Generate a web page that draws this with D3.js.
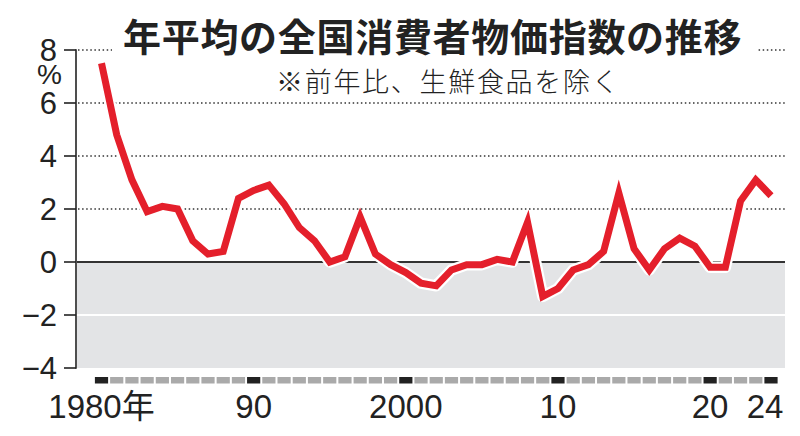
<!DOCTYPE html>
<html>
<head>
<meta charset="utf-8">
<script src="https://cdn.jsdelivr.net/npm/d3@7"></script>
<style>
	body { margin: 0; background: #fff; }
	svg { display: block; }
</style>
</head>
<body>
<svg id="mainsvg" width="800" height="436"></svg>
<script>
// 全国消費者物価指数（生鮮食品を除く）前年比 %
var years = d3.range(1980, 2025);
var values = [
	7.5, 4.8, 3.1, 1.9, 2.1, 2.0, 0.8, 0.3, 0.4, 2.4,
	2.7, 2.9, 2.2, 1.3, 0.8, 0.0, 0.2, 1.7, 0.3, -0.1,
	-0.4, -0.8, -0.9, -0.3, -0.1, -0.1, 0.1, 0.0, 1.5, -1.3,
	-1.0, -0.3, -0.1, 0.4, 2.6, 0.5, -0.3, 0.5, 0.9, 0.6,
	-0.2, -0.2, 2.3, 3.1, 2.5
];
var yTicks = [8, 6, 4, 2, 0, -2, -4];
var xLabels = [
	{ year: 1980, text: "1980年" },
	{ year: 1990, text: "90" },
	{ year: 2000, text: "2000" },
	{ year: 2010, text: "10" },
	{ year: 2020, text: "20" },
	{ year: 2024, text: "24" }
];
var title = "年平均の全国消費者物価指数の推移";
var subtitle = "※前年比、生鮮食品を除く";

var svg = d3.select("#mainsvg");
var numFont = "'Liberation Sans', Arial, sans-serif";
var jpFont = "'Noto Sans CJK JP', sans-serif";

var x = d3.scaleLinear().domain([1980, 2024]).range([101.5, 771]);
var y = d3.scaleLinear().domain([-4, 8]).range([368, 50]);
var left = 77, right = 785;

// gray area below zero
svg.append("rect")
	.attr("x", left).attr("y", y(0))
	.attr("width", right - left).attr("height", y(-4) - y(0))
	.attr("fill", "#e3e4e6");

// grid lines
yTicks.forEach(function(t) {
	if (t > 0) {
		svg.append("line")
			.attr("x1", left + 1).attr("x2", right)
			.attr("y1", y(t)).attr("y2", y(t))
			.attr("stroke", "#333").attr("stroke-width", 1.5)
			.attr("stroke-dasharray", "1.5,2.6");
	} else if (t == -2) {
		svg.append("line")
			.attr("x1", left).attr("x2", right)
			.attr("y1", y(t)).attr("y2", y(t))
			.attr("stroke", "#fff").attr("stroke-width", 2);
	}
});
svg.append("line")
	.attr("x1", left).attr("x2", right)
	.attr("y1", y(0)).attr("y2", y(0))
	.attr("stroke", "#333").attr("stroke-width", 2);

// y axis
svg.append("line")
	.attr("x1", 76).attr("x2", 76)
	.attr("y1", y(8) - 0.8).attr("y2", y(-4) + 0.8)
	.attr("stroke", "#222").attr("stroke-width", 1.6);
svg.selectAll(".ytick")
	.data(yTicks)
	.enter().append("line")
	.attr("x1", 64).attr("x2", 76)
	.attr("y1", function(d) { return y(d); })
	.attr("y2", function(d) { return y(d); })
	.attr("stroke", "#222").attr("stroke-width", 1.6);
svg.selectAll(".ylabel")
	.data(yTicks)
	.enter().append("text")
	.attr("x", 57)
	.attr("y", function(d) { return y(d) + 11; })
	.attr("text-anchor", "end")
	.attr("font-family", numFont)
	.attr("font-size", 31)
	.attr("fill", "#222")
	.text(function(d) { return d < 0 ? "\u2212" + Math.abs(d) : d; });
svg.append("text")
	.attr("x", 62).attr("y", 84)
	.attr("text-anchor", "end")
	.attr("font-family", numFont)
	.attr("font-size", 28)
	.attr("fill", "#222")
	.text("%");

// title with white backing
svg.append("rect")
	.attr("x", 112).attr("y", 14)
	.attr("width", 646).attr("height", 46)
	.attr("fill", "#fff");
svg.append("text")
	.attr("x", 123).attr("y", 51)
	.attr("font-family", jpFont)
	.attr("font-weight", "bold")
	.attr("font-size", 38)
	.attr("letter-spacing", 0.7)
	.attr("fill", "#222")
	.text(title);
svg.append("text")
	.attr("x", 276).attr("y", 92)
	.attr("font-family", jpFont)
	.attr("font-weight", 300)
	.attr("font-size", 27)
	.attr("letter-spacing", 1.7)
	.attr("fill", "#222")
	.text(subtitle);

// year boxes
svg.selectAll(".ybox")
	.data(years)
	.enter().append("rect")
	.attr("x", function(d) { return x(d) - 6.6; })
	.attr("y", 377)
	.attr("width", 13.2)
	.attr("height", 6.5)
	.attr("fill", function(d) { return (d % 10 == 0 || d == 2024) ? "#222" : "#aaa"; });

svg.selectAll(".xlabel")
	.data(xLabels)
	.enter().append("text")
	.attr("x", function(d) { return x(d.year) + (d.year == 2024 ? -6 : 0); })
	.attr("y", 418)
	.attr("text-anchor", "middle")
	.attr("font-family", function(d) { return d.year == 1980 ? numFont + ", " + jpFont : numFont; })
	.attr("font-size", 33)
	.attr("fill", "#222")
	.text(function(d) { return d.text; });

// line with white halo
var line = d3.line()
	.x(function(d, i) { return x(years[i]); })
	.y(function(d) { return y(d); });

svg.append("path")
	.attr("d", line(values))
	.attr("fill", "none")
	.attr("stroke", "#fff")
	.attr("stroke-width", 11.5)
	.attr("stroke-linejoin", "round");
svg.append("path")
	.attr("d", line(values))
	.attr("fill", "none")
	.attr("stroke", "#e41f2b")
	.attr("stroke-width", 7)
	.attr("stroke-linejoin", "miter");
</script>
</body>
</html>
